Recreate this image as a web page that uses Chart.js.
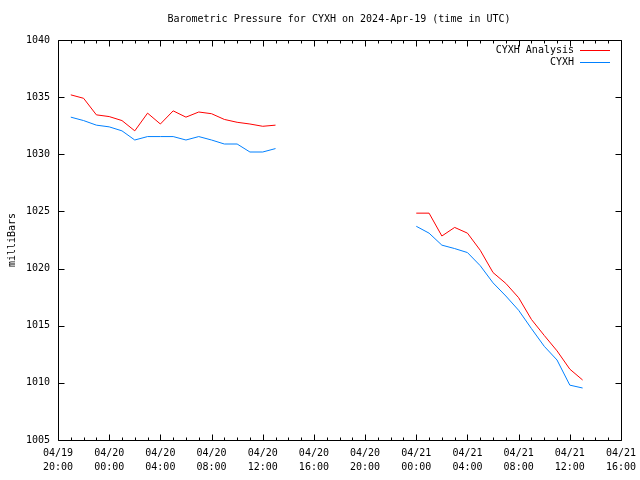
<!DOCTYPE html>
<html>
<head>
<meta charset="utf-8">
<script src="https://cdn.jsdelivr.net/npm/chart.js@4/dist/chart.umd.min.js"></script>
<style>
  html, body { margin: 0; padding: 0; background: #fff; }
  #chart { display: block; }
</style>
</head>
<body>
<canvas id="chart" width="640" height="480"></canvas>
<script>
const startTime = '2024-04-19T20:00'
const endTime = '2024-04-21T16:00'

// hourly readings, first block (04/19 21:00 .. 04/20 13:00)
const times1 = [
  '2024-04-19T21:00', '2024-04-19T22:00', '2024-04-19T23:00', '2024-04-20T00:00',
  '2024-04-20T01:00', '2024-04-20T02:00', '2024-04-20T03:00', '2024-04-20T04:00',
  '2024-04-20T05:00', '2024-04-20T06:00', '2024-04-20T07:00', '2024-04-20T08:00',
  '2024-04-20T09:00', '2024-04-20T10:00', '2024-04-20T11:00', '2024-04-20T12:00',
  '2024-04-20T13:00'
]
const analysis1 = [1035.2, 1034.9, 1033.45, 1033.3, 1032.95, 1032.05, 1033.6, 1032.65,
  1033.8, 1033.25, 1033.7, 1033.55, 1033.05, 1032.8, 1032.65, 1032.45, 1032.55]
const observed1 = [1033.25, 1032.95, 1032.55, 1032.4, 1032.05, 1031.25, 1031.55, 1031.55,
  1031.55, 1031.25, 1031.55, 1031.25, 1030.9, 1030.9, 1030.2, 1030.2, 1030.5]

// second block (04/21 00:00 .. 04/21 13:00)
const times2 = [
  '2024-04-21T00:00', '2024-04-21T01:00', '2024-04-21T02:00', '2024-04-21T03:00',
  '2024-04-21T04:00', '2024-04-21T05:00', '2024-04-21T06:00', '2024-04-21T07:00',
  '2024-04-21T08:00', '2024-04-21T09:00', '2024-04-21T10:00', '2024-04-21T11:00',
  '2024-04-21T12:00', '2024-04-21T13:00'
]
const analysis2 = [1024.85, 1024.85, 1022.85, 1023.6, 1023.1, 1021.6, 1019.65, 1018.7,
  1017.45, 1015.55, 1014.15, 1012.8, 1011.2, 1010.25]
const observed2 = [1023.7, 1023.1, 1022.05, 1021.75, 1021.4, 1020.25, 1018.75, 1017.6,
  1016.35, 1014.75, 1013.2, 1012.0, 1009.8, 1009.55]

const seriesNames = ['CYXH Analysis', 'CYXH']
const seriesColors = ['#ff0000', '#0080ff']
const yTicks = [1005, 1010, 1015, 1020, 1025, 1030, 1035, 1040]
const chartTitle = 'Barometric Pressure for CYXH on 2024-Apr-19 (time in UTC)'
const yTitle = 'milliBars'

const FONT = '"DejaVu Sans Mono", monospace'
const t0 = Date.parse(startTime + 'Z')
const hoursOf = t => (Date.parse(t + 'Z') - t0) / 3600000
const totalHours = hoursOf(endTime)

const pad2 = n => String(n).padStart(2, '0')
const hourLabel = value => {
  const d = new Date(t0 + value * 3600000)
  return [pad2(d.getUTCMonth() + 1) + '/' + pad2(d.getUTCDate()),
          pad2(d.getUTCHours()) + ':' + pad2(d.getUTCMinutes())]
}

const buildPoints = (v1, v2) => {
  let pts = times1.map((t, i) => ({ x: hoursOf(t), y: v1[i] }))
  pts.push({ x: (hoursOf(times1[times1.length - 1]) + hoursOf(times2[0])) / 2, y: null })
  return pts.concat(times2.map((t, i) => ({ x: hoursOf(t), y: v2[i] })))
}

// gnuplot style frame with inward ticks on all four sides, title, legend at top right
const framePlugin = {
  id: 'frame',
  afterDatasetsDraw(chart) {
    const { ctx, chartArea: a, scales } = chart
    const L = Math.round(a.left) + 0.5, R = Math.round(a.right) + 0.5
    const T = Math.round(a.top) + 0.5, B = Math.round(a.bottom) + 0.5
    ctx.save()
    ctx.strokeStyle = '#000'
    ctx.lineWidth = 1
    ctx.beginPath()
    ctx.rect(L, T, R - L, B - T)
    for (let h = 0; h <= totalHours; h++) {
      const x = Math.round(scales.x.getPixelForValue(h)) + 0.5
      const len = h % 4 === 0 ? 6 : 3
      ctx.moveTo(x, B); ctx.lineTo(x, B - len)
      ctx.moveTo(x, T); ctx.lineTo(x, T + len)
    }
    yTicks.forEach(v => {
      const y = Math.round(scales.y.getPixelForValue(v)) + 0.5
      ctx.moveTo(L, y); ctx.lineTo(L + 6, y)
      ctx.moveTo(R, y); ctx.lineTo(R - 6, y)
    })
    ctx.stroke()
    ctx.restore()

    ctx.save()
    ctx.font = '10px ' + FONT
    ctx.fillStyle = '#000'
    ctx.textBaseline = 'middle'
    ctx.textAlign = 'center'
    ctx.fillText(chartTitle, 339, 19)
    ctx.textAlign = 'right'
    seriesNames.forEach((name, i) => {
      const y = 50 + i * 12
      ctx.fillStyle = '#000'
      ctx.fillText(name, 574, y)
      ctx.strokeStyle = seriesColors[i]
      ctx.lineWidth = 1
      ctx.beginPath()
      ctx.moveTo(580, y + 0.5)
      ctx.lineTo(610, y + 0.5)
      ctx.stroke()
    })
    ctx.restore()
  }
}

const ctx = document.getElementById('chart')
let config = {
  type: 'line',
  data: {
    datasets: [{
      label: seriesNames[0],
      data: buildPoints(analysis1, analysis2),
      borderColor: seriesColors[0],
      borderWidth: 1,
      pointRadius: 0,
      spanGaps: false,
      fill: false
    }, {
      label: seriesNames[1],
      data: buildPoints(observed1, observed2),
      borderColor: seriesColors[1],
      borderWidth: 1,
      pointRadius: 0,
      spanGaps: false,
      fill: false
    }]
  },
  options: {
    responsive: false,
    animation: false,
    devicePixelRatio: 1,
    layout: { padding: { left: 0, right: 19, top: 40, bottom: 0 } },
    plugins: {
      legend: { display: false },
      tooltip: { enabled: false },
      title: { display: false }
    },
    scales: {
      x: {
        type: 'linear',
        min: 0,
        max: totalHours,
        afterFit: s => { s.height = 40; s.paddingRight = 19 },
        grid: { display: false, drawTicks: false },
        border: { display: false },
        ticks: {
          stepSize: 4,
          autoSkip: false,
          maxRotation: 0,
          padding: 6,
          color: '#000',
          font: { family: FONT, size: 10, lineHeight: 1.4 },
          callback: value => hourLabel(value)
        }
      },
      y: {
        min: 1005,
        max: 1040,
        afterFit: s => { s.width = 58 },
        afterBuildTicks: s => { s.ticks = yTicks.map(v => ({ value: v })) },
        grid: { display: false, drawTicks: false },
        border: { display: false },
        title: {
          display: true,
          text: yTitle,
          color: '#000',
          font: { family: FONT, size: 10 },
          padding: { top: 6, bottom: 0 }
        },
        ticks: {
          padding: 8,
          color: '#000',
          font: { family: FONT, size: 10 },
          callback: value => String(value)
        }
      }
    }
  },
  plugins: [framePlugin]
}
let chart = new Chart(ctx, config)
</script>
</body>
</html>
